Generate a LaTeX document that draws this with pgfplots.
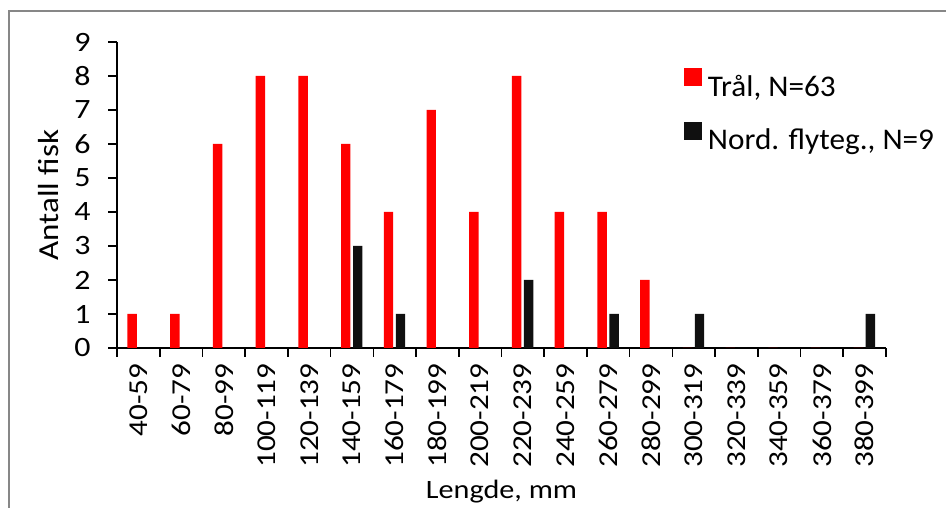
\documentclass[border=0pt]{standalone}
\usepackage{fontspec}
\setmainfont{Carlito}
\newfontfamily\axisfont{Carlito}[FakeStretch=1.14]
\newfontfamily\legfont{Carlito}[FakeStretch=1.04]
\usepackage{pgfplots}
\pgfplotsset{compat=1.18}
\definecolor{tral}{RGB}{255,0,0}
\definecolor{nord}{RGB}{16,16,16}
\definecolor{framec}{RGB}{135,135,135}
\begin{document}
\begin{tikzpicture}[x=1pt,y=1pt]
\useasboundingbox (0,0) rectangle (946,508);
\draw[framec, line width=1.5pt] (9,0) -- (9,497) -- (946,497);
\begin{axis}[
  at={(117pt,160pt)}, anchor=south west,
  scale only axis, width=769pt, height=306pt,
  xmin=-0.5, xmax=17.5, ymin=0, ymax=9,
  ybar, bar width=0.22,
  axis x line*=bottom, axis y line*=left,
  axis line style={line width=1.6pt, -},
  xtick={0,...,17},
  xticklabels={40-59,60-79,80-99,100-119,120-139,140-159,160-179,180-199,200-219,220-239,240-259,260-279,280-299,300-319,320-339,340-359,360-379,380-399},
  minor xtick={-0.5,0.5,...,17.5},
  ytick={0,...,9},
  tick align=outside,
  major tick length=9pt, minor tick length=9pt,
  tick style={line width=1.6pt, black},
  major x tick style={draw=none},
  /pgf/number format/assume math mode=true,
  xticklabel style={yshift=-3pt, rotate=90, anchor=east, font=\axisfont\fontsize{27.3}{33}\selectfont},
  yticklabel style={anchor=east, xshift=-14pt, font=\axisfont\fontsize{28}{34}\selectfont},
  ylabel={Antall fisk},
  xlabel={Lengde, mm},
  label style={font=\axisfont\fontsize{26.5}{32}\selectfont},
  ylabel style={at={(axis description cs:-0.089,0.5)}, anchor=center, font=\axisfont\fontsize{29}{34}\selectfont},
  xlabel style={at={(axis description cs:0.5,-0.47)}, anchor=center},
  legend style={at={(axis description cs:0.737,0.915)}, anchor=north west, draw=none, fill=none,
    font=\legfont\fontsize{30}{36}\selectfont, row sep=22pt, inner sep=0pt},
  legend cell align=left,
  legend image code/.code={\fill[#1] (0pt,0pt) rectangle (18pt,18pt); \path (22pt,0pt);},
]
\addplot[fill=tral, draw=none, bar shift=-0.145] coordinates {
(0,1)(1,1)(2,6)(3,8)(4,8)(5,6)(6,4)(7,7)(8,4)(9,8)(10,4)(11,4)(12,2)(13,0)(14,0)(15,0)(16,0)(17,0)};
\addlegendentry{Trål, N=63}
\addplot[fill=nord, draw=none, bar shift=0.135] coordinates {
(0,0)(1,0)(2,0)(3,0)(4,0)(5,3)(6,1)(7,0)(8,0)(9,2)(10,0)(11,1)(12,0)(13,1)(14,0)(15,0)(16,0)(17,1)};
\addlegendentry{Nord. flyteg., N=9}
\end{axis}
\end{tikzpicture}
\end{document}
